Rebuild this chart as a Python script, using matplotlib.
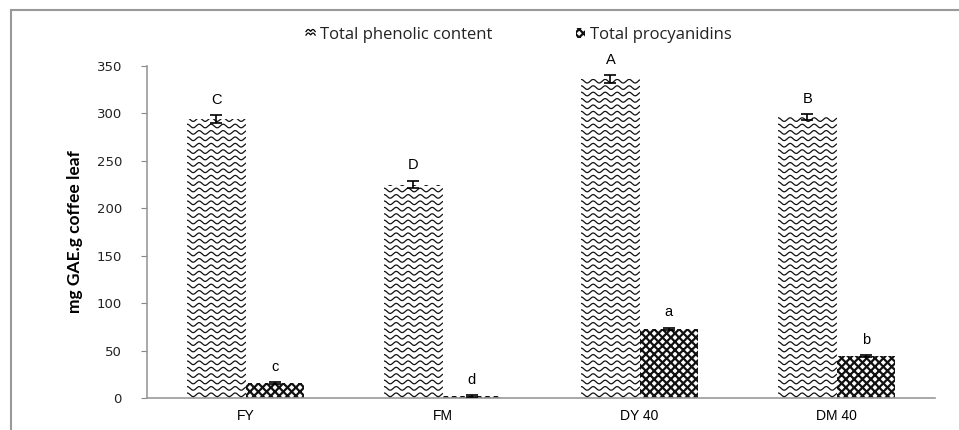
import numpy as np
import matplotlib
matplotlib.use("Agg")
import matplotlib.pyplot as plt
from matplotlib.patches import Patch, Rectangle
from matplotlib.lines import Line2D
from matplotlib.legend_handler import HandlerBase

# data
samples = ["FY", "FM", "DY 40", "DM 40"]
phenolic = [294, 225, 336, 296]
phenolic_err = [4, 4, 4, 3]
procyanidins = [16, 2, 73, 44]
procyanidins_err = [1, 1, 1, 1]
phenolic_letters = ["C", "D", "A", "B"]
procyanidin_letters = ["c", "d", "a", "b"]

plt.rcParams["hatch.linewidth"] = 1.6

fig = plt.figure(figsize=(9.59, 4.30), dpi=100)
ax = fig.add_axes([147 / 959, 1 - 398 / 430, (935 - 147) / 959, (398 - 66) / 430])
ax.set_xlim(-0.5, len(samples) - 0.5)
ax.set_ylim(0, 350)

x = np.arange(len(samples))
w = 0.296

# wavy fill is drawn by hand below, bar itself is plain white
b1 = ax.bar(x - w / 2, phenolic, w, color="white", edgecolor="none", zorder=2)
b2 = ax.bar(x + w / 2, procyanidins, w, color="white", edgecolor="#111111",
            linewidth=0, hatch="xxxx", zorder=2)

# pixel -> data scale
bb = ax.get_window_extent()
px_x = (ax.get_xlim()[1] - ax.get_xlim()[0]) / bb.width
px_y = (ax.get_ylim()[1] - ax.get_ylim()[0]) / bb.height


def wave_fill(axis, rect, period=12, amp=1.8, gap=6.4):
    x0 = rect.get_x()
    x1 = x0 + rect.get_width()
    h = rect.get_height()
    xs = np.linspace(x0, x1, 300)
    ph = 2 * np.pi * (xs - x0) / (period * px_x)
    yy = gap * px_y / 2
    while yy < h + gap * px_y:
        ln = axis.plot(xs, yy + amp * px_y * np.cos(ph), color="#111111",
                       lw=0.9, zorder=3)[0]
        ln.set_clip_path(rect)
        yy += gap * px_y


for r in b1:
    wave_fill(ax, r)

ax.errorbar(x - w / 2, phenolic, yerr=phenolic_err, fmt="none", ecolor="black",
            elinewidth=1.2, capsize=4, capthick=1.2, zorder=4)
ax.errorbar(x + w / 2, procyanidins, yerr=procyanidins_err, fmt="none",
            ecolor="black", elinewidth=1.2, capsize=4, capthick=1.2, zorder=4)

for i in range(len(samples)):
    ax.annotate(phenolic_letters[i], (x[i] - w / 2, phenolic[i] + phenolic_err[i]),
                xytext=(0, 6), textcoords="offset points", ha="center",
                va="bottom", fontsize=10.5, family="Liberation Sans")
    ax.annotate(procyanidin_letters[i],
                (x[i] + w / 2, procyanidins[i] + procyanidins_err[i]),
                xytext=(0, 6), textcoords="offset points", ha="center",
                va="bottom", fontsize=10.5, family="Liberation Sans")

ax.set_xticks(x)
ax.set_xticklabels(samples, family="Liberation Sans", fontsize=10)
ax.set_yticks(np.arange(0, 351, 50))
ax.tick_params(axis="x", length=0, pad=8)
ax.tick_params(axis="y", length=4, color="#888888", pad=14, labelsize=9.5,
               labelcolor="#222222")
for s in ["top", "right"]:
    ax.spines[s].set_visible(False)
for s in ["left", "bottom"]:
    ax.spines[s].set_color("#999999")
    ax.spines[s].set_linewidth(1.2)

ax.set_ylabel("mg GAE.g coffee leaf", fontsize=12.5, fontweight="bold",
              family="Lato", labelpad=10)


class WaveHandler(HandlerBase):
    def create_artists(self, legend, orig, xd, yd, width, height, fontsize, trans):
        out = []
        xs = np.linspace(0, width, 20)
        for k in range(2):
            ys = height * (0.3 + 0.35 * k) + 1.5 * np.abs(
                np.sin(np.pi * xs / (width / 2)))
            ln = Line2D(xs - xd, ys - yd, color="black", lw=0.9)
            ln.set_transform(trans)
            out.append(ln)
        return out


h1 = Patch(facecolor="white", edgecolor="none")
h2 = Patch(facecolor="white", edgecolor="#111111", hatch="xxxx", linewidth=0)
leg = fig.legend([h1, h2], ["Total phenolic content", "Total procyanidins"],
                 loc="center left", bbox_to_anchor=(306 / 959, 1 - 35 / 430),
                 ncol=2, frameon=False, borderpad=0, borderaxespad=0,
                 handlelength=0.55, handleheight=0.55,
                 handletextpad=0.3, columnspacing=5.0,
                 handler_map={h1: WaveHandler()},
                 prop={"family": "Open Sans", "size": 12})
for t in leg.get_texts():
    t.set_color("#222222")

# outer frame of the pasted chart
fig.patches.append(Rectangle((11 / 959, -0.1), 1.0, 1.1 - 10 / 430,
                             transform=fig.transFigure, fill=False,
                             edgecolor="#999999", linewidth=1.5))

fig.savefig("out.png", dpi=100)
